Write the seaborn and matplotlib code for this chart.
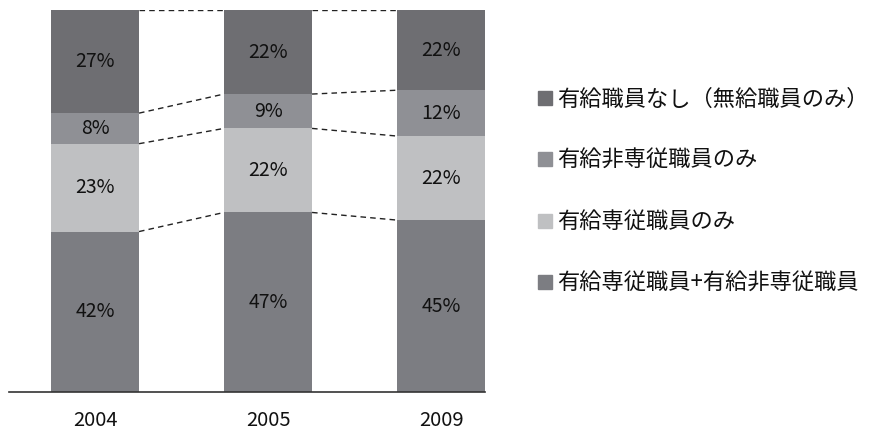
import matplotlib
matplotlib.use("Agg")
import matplotlib.pyplot as plt
from matplotlib.lines import Line2D
import numpy as np
import pandas as pd
import seaborn as sns

sns.set_style("white")
plt.rcParams['font.family'] = ['Noto Sans CJK JP', 'DejaVu Sans']

# data (bottom -> top)
years = ['2004', '2005', '2009']
both = [42, 47, 45]           # 有給専従職員+有給非専従職員
fulltime_only = [23, 22, 22]  # 有給専従職員のみ
parttime_only = [8, 9, 12]    # 有給非専従職員のみ
no_paid = [27, 22, 22]        # 有給職員なし（無給職員のみ）

series = [both, fulltime_only, parttime_only, no_paid]
names = ['有給専従職員+有給非専従職員', '有給専従職員のみ',
         '有給非専従職員のみ', '有給職員なし（無給職員のみ）']
colors = ['#7c7d82', '#bfc0c2', '#8f9095', '#6e6e72']

vals = np.array(series, dtype=float)
cum = vals.cumsum(axis=0)

fig = plt.figure(figsize=(8.79, 4.34), dpi=100)
ax = fig.add_axes([9 / 879, 42 / 434, 476 / 879, 382 / 434])

bar_w = 0.509
# draw cumulative bars from the top down so each layer covers the one above
for k in range(len(series) - 1, -1, -1):
    df = pd.DataFrame({'year': years, 'v': cum[k]})
    sns.barplot(data=df, x='year', y='v', color=colors[k], width=bar_w,
                saturation=1, linewidth=0, ax=ax)

# value labels
for k in range(len(series)):
    for i in range(len(years)):
        top = min(cum[k][i], 100)
        bot = cum[k][i] - vals[k][i]
        ax.text(i, (top + bot) / 2, f'{int(vals[k][i])}%', ha='center',
                va='center', fontsize=14, color='#111111')

# dashed connectors between segment boundaries
for k in range(len(series)):
    for i in range(len(years) - 1):
        y0 = min(cum[k][i], 100)
        y1 = min(cum[k][i + 1], 100)
        ax.plot([i + bar_w / 2, i + 1 - bar_w / 2], [y0, y1],
                ls=(0, (4, 3)), color='#222222', lw=1)

ax.set_xlim(-0.497, 2.254)
ax.set_ylim(0, 100)
ax.set_xlabel('')
ax.set_ylabel('')
ax.set_yticks([])
for s in ['top', 'right', 'left']:
    ax.spines[s].set_visible(False)
ax.spines['bottom'].set_color('#333333')
ax.spines['bottom'].set_linewidth(1.2)
ax.tick_params(axis='x', length=0, pad=13, labelsize=14.5, labelcolor='#111111')

handles = [Line2D([], [], marker='s', ls='', color=colors[k], markersize=10.5)
           for k in range(len(series) - 1, -1, -1)]
labels = names[::-1]
fig.legend(handles, labels, loc='upper left', bbox_to_anchor=(525 / 879, 1 - 79 / 434),
           frameon=False, fontsize=16, labelspacing=1.72, handletextpad=0.05,
           handlelength=1.0, borderaxespad=0, labelcolor='#111111')

fig.savefig('out.png', dpi=100)
